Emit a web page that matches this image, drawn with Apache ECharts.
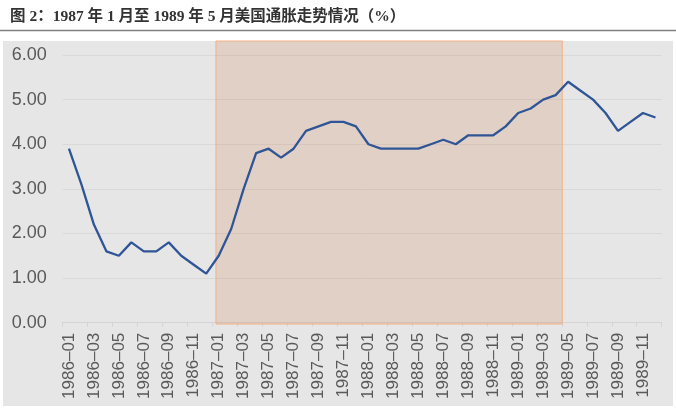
<!DOCTYPE html>
<html>
<head>
<meta charset="utf-8">
<script src="https://cdn.jsdelivr.net/npm/echarts@6/dist/echarts.min.js"></script>
<style>
html,body{margin:0;padding:0;background:#fff;}
#wrap{position:relative;width:676px;height:413px;}
#panel{position:absolute;left:3px;top:41px;width:670px;height:365px;background:#e6e6e6;}
#chart{position:absolute;left:0;top:0;width:676px;height:413px;}
</style>
</head>
<body>
<div id="wrap"><div id="panel"></div><div id="chart"></div></div>
<script>
// Months 1986-01 .. 1989-12
const months = [
  '1986-01','1986-02','1986-03','1986-04','1986-05','1986-06','1986-07','1986-08','1986-09','1986-10','1986-11','1986-12',
  '1987-01','1987-02','1987-03','1987-04','1987-05','1987-06','1987-07','1987-08','1987-09','1987-10','1987-11','1987-12',
  '1988-01','1988-02','1988-03','1988-04','1988-05','1988-06','1988-07','1988-08','1988-09','1988-10','1988-11','1988-12',
  '1989-01','1989-02','1989-03','1989-04','1989-05','1989-06','1989-07','1989-08','1989-09','1989-10','1989-11','1989-12'
];
// US CPI inflation, % y/y
const inflation = [
  3.9, 3.1, 2.2, 1.6, 1.5, 1.8, 1.6, 1.6, 1.8, 1.5, 1.3, 1.1,
  1.5, 2.1, 3.0, 3.8, 3.9, 3.7, 3.9, 4.3, 4.4, 4.5, 4.5, 4.4,
  4.0, 3.9, 3.9, 3.9, 3.9, 4.0, 4.1, 4.0, 4.2, 4.2, 4.2, 4.4,
  4.7, 4.8, 5.0, 5.1, 5.4, 5.2, 5.0, 4.7, 4.3, 4.5, 4.7, 4.6
];
// Shaded period (1987-01 to 1989-05), in month offsets from the axis start
const shadeRange = [12.28, 40.03];
const yTicks = [0, 1, 2, 3, 4, 5, 6];
const titleText = '图 2：1987 年 1 月至 1989 年 5 月美国通胀走势情况（%）';

const chart = echarts.init(document.getElementById('chart'), null, {renderer: 'canvas'});
const labelFont = '"Liberation Sans", Arial, sans-serif';
const option = {
  animation: false,
  title: {
    text: titleText,
    left: 5, top: 4,
    textStyle: {
      fontSize: 15.5, fontWeight: 'bold', color: '#333333',
      fontFamily: '"Liberation Serif", "Noto Sans CJK SC", serif'
    }
  },
  graphic: [{
    type: 'line',
    shape: {x1: 0, y1: 30.5, x2: 676, y2: 30.5},
    style: {stroke: '#7f7f7f', lineWidth: 1.5}
  }],
  grid: [
    {left: 62.7, right: 14.3, top: 55, bottom: 90.3, containLabel: false},
    {left: 62.7, right: 14.3, top: 41, bottom: 89, containLabel: false}
  ],
  xAxis: [{
    type: 'category',
    gridIndex: 0,
    data: months,
    boundaryGap: true,
    axisLine: {show: true, lineStyle: {color: '#d4d4d4', width: 1}},
    axisTick: {show: true, interval: 1, length: 4, lineStyle: {color: '#d4d4d4'}},
    axisLabel: {
      interval: 1, rotate: 90, margin: 10,
      fontSize: 17, color: '#595959', fontFamily: labelFont,
      formatter: v => v.replace('-', '–')
    },
    splitLine: {show: false}
  }, {
    type: 'value', gridIndex: 1, min: 0, max: 48, show: false
  }],
  yAxis: [{
    type: 'value',
    gridIndex: 0,
    min: yTicks[0], max: yTicks[yTicks.length - 1], interval: 1,
    axisLine: {show: false},
    axisTick: {show: false},
    axisLabel: {
      margin: 16, fontSize: 18, color: '#595959', fontFamily: labelFont,
      formatter: v => v.toFixed(2)
    },
    splitLine: {show: true, lineStyle: {color: '#d9d9d9', width: 1}}
  }, {
    type: 'value', gridIndex: 1, min: 0, max: 1, show: false
  }],
  series: [{
    type: 'line',
    name: 'shade',
    xAxisIndex: 1, yAxisIndex: 1,
    data: [],
    silent: true,
    markArea: {
      silent: true,
      itemStyle: {color: 'rgba(197,90,17,0.15)', borderColor: '#f4b183', borderWidth: 1},
      data: [[{xAxis: shadeRange[0], yAxis: 0}, {xAxis: shadeRange[1], yAxis: 1}]]
    }
  }, {
    type: 'line',
    name: '美国通胀',
    xAxisIndex: 0, yAxisIndex: 0,
    data: inflation,
    showSymbol: false,
    symbol: 'none',
    lineStyle: {color: '#2f5597', width: 2.3},
    z: 5
  }]
};
chart.setOption(option);
</script>
</body>
</html>
